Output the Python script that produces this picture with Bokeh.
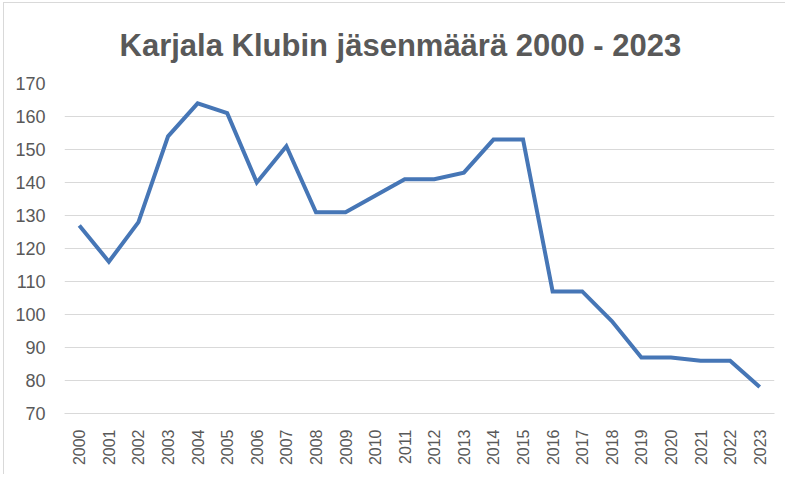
from bokeh.plotting import figure
from bokeh.models import FactorRange, Range1d, FixedTicker
from bokeh.embed import file_html
from bokeh.resources import INLINE
import math

years = [str(y) for y in range(2000, 2024)]
members = [127, 116, 128, 154, 164, 161, 140, 151, 131, 131, 136, 141,
           141, 143, 153, 153, 107, 107, 98, 87, 87, 86, 86, 78]
y_ticks = [70, 80, 90, 100, 110, 120, 130, 140, 150, 160, 170]
title_text = "Karjala Klubin jäsenmäärä 2000 - 2023"

p = figure(width=782, height=472, x_range=FactorRange(*years),
           y_range=Range1d(70, 170), output_backend="svg",
           toolbar_location=None, title=title_text,
           min_border_left=60, min_border_right=12,
           min_border_top=80, min_border_bottom=62)
p.styles = {"border-left": "1px solid #d9d9d9", "border-top": "1px solid #d9d9d9",
            "margin-left": "3px", "margin-top": "2px"}

p.title.text_font = "Liberation Sans"
p.title.text_font_size = "31px"
p.title.text_font_style = "bold"
p.title.text_color = "#595959"
p.title.align = "left"
p.title.offset = 55
p.title.standoff = 42

p.line(years, members, line_color="#4676b6", line_width=4, line_join="miter")

p.yaxis.ticker = FixedTicker(ticks=y_ticks)
p.yaxis.axis_line_color = None
p.yaxis.major_tick_line_color = None
p.yaxis.minor_tick_line_color = None
p.yaxis.major_label_text_font = "Liberation Sans"
p.yaxis.major_label_text_font_size = "18px"
p.yaxis.major_label_text_color = "#595959"
p.yaxis.major_label_standoff = 13

p.xaxis.axis_line_color = "#d9d9d9"
p.xaxis.major_tick_line_color = None
p.xaxis.minor_tick_line_color = None
p.xaxis.major_label_orientation = math.pi / 2
p.xaxis.major_label_text_font = "Liberation Sans"
p.xaxis.major_label_text_font_size = "16px"
p.xaxis.major_label_text_color = "#595959"
p.xaxis.major_label_standoff = 10

p.xgrid.grid_line_color = None
p.ygrid.grid_line_color = "#d9d9d9"
p.ygrid.grid_line_width = 1
p.outline_line_color = None
p.border_fill_color = "white"
p.background_fill_color = "white"

open("out.html", "w").write(file_html(p, INLINE))
